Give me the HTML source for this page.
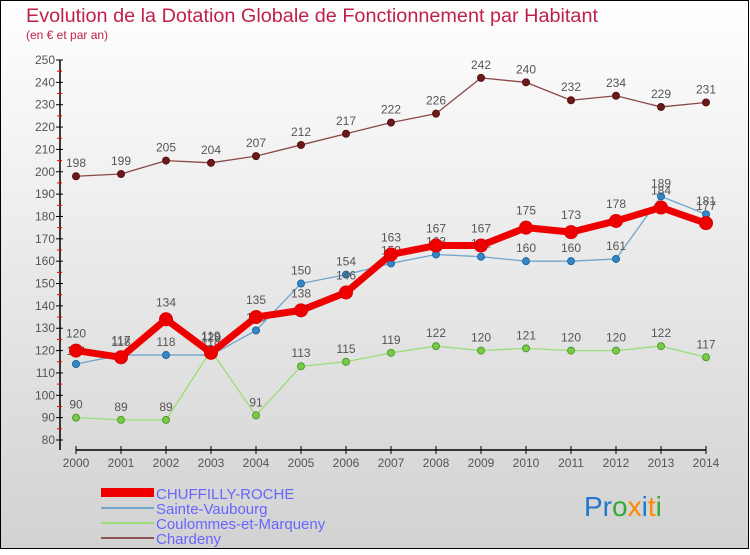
<!DOCTYPE html>
<html><head><meta charset="utf-8"><style>
body{margin:0}
#c{width:750px;height:550px;position:relative;font-family:"Liberation Sans",sans-serif}
svg text{font-family:"Liberation Sans",sans-serif}
</style></head><body>
<div id="c">
<svg id="s" width="750" height="550" xmlns="http://www.w3.org/2000/svg">
<defs><linearGradient id="bg" x1="0" y1="0" x2="0" y2="1"><stop offset="0" stop-color="#ffffff"/><stop offset="1" stop-color="#d2d2d2"/></linearGradient></defs>
<rect x="0.5" y="0.5" width="748" height="548" fill="url(#bg)" stroke="#000" stroke-width="1"/>
<text x="26" y="22" font-size="19" fill="#c0204a" textLength="572" lengthAdjust="spacingAndGlyphs">Evolution de la Dotation Globale de Fonctionnement par Habitant</text>
<text x="26" y="39" font-size="12" fill="#c0204a">(en € et par an)</text>
<g id="axes"></g><g id="series"></g>
<g>
<rect x="101" y="488" width="53" height="9" fill="#ee0000"/>
<text x="156" y="499" font-size="15" fill="#6666ff">CHUFFILLY-ROCHE</text>
<line x1="101" y1="508" x2="154" y2="508" stroke="#6fa6cc" stroke-width="2"/>
<text x="156" y="514" font-size="15" fill="#6666ff">Sainte-Vaubourg</text>
<line x1="101" y1="523" x2="154" y2="523" stroke="#99dd77" stroke-width="2"/>
<text x="156" y="529" font-size="15" fill="#6666ff">Coulommes-et-Marqueny</text>
<line x1="101" y1="538" x2="154" y2="538" stroke="#8b5555" stroke-width="2"/>
<text x="156" y="544" font-size="15" fill="#6666ff">Chardeny</text>
</g>
<text x="584" y="516" font-size="28"><tspan fill="#2277cc">Pr</tspan><tspan fill="#33aa33">o</tspan><tspan fill="#ff8800">x</tspan><tspan fill="#2277cc">i</tspan><tspan fill="#ff8800">t</tspan><tspan fill="#33aa33">i</tspan></text>
</svg></div>
<script>
const years=[2000,2001,2002,2003,2004,2005,2006,2007,2008,2009,2010,2011,2012,2013,2014];
const yTicks=[80,90,100,110,120,130,140,150,160,170,180,190,200,210,220,230,240,250];
const chuffilly=[120,117,134,119,135,138,146,163,167,167,175,173,178,184,177];
const sainteVaubourg=[114,118,118,118,129,150,154,159,163,162,160,160,161,189,181];
const coulommes=[90,89,89,120,91,113,115,119,122,120,121,120,120,122,117];
const chardeny=[198,199,205,204,207,212,217,222,226,242,240,232,234,229,231];
const NS="http://www.w3.org/2000/svg";
function X(i){return 76+i*(630/(years.length-1));}
function Y(v){return 440-(v-80)*(380/170);}
function mk(t,a,p){const e=document.createElementNS(NS,t);for(const k in a)e.setAttribute(k,a[k]);p.appendChild(e);return e;}
const ax=document.getElementById('axes');
mk('line',{x1:60,y1:60,x2:60,y2:450,stroke:'#000','stroke-width':1.5},ax);
mk('line',{x1:76,y1:450,x2:706,y2:450,stroke:'#000','stroke-width':1.5},ax);
yTicks.forEach(v=>{
  mk('line',{x1:56,y1:Y(v),x2:63,y2:Y(v),stroke:'#000'},ax);
  if(v<250) mk('line',{x1:57,y1:Y(v+5),x2:62,y2:Y(v+5),stroke:'#e00'},ax);
  const t=mk('text',{x:55,y:Y(v)+4,'font-size':12,fill:'#555','text-anchor':'end'},ax);
  t.textContent=v;
  
  
});
years.forEach((yr,i)=>{
  mk('line',{x1:X(i),y1:446,x2:X(i),y2:454,stroke:'#000'},ax);
  const t=mk('text',{x:X(i),y:467,'font-size':12,fill:'#555','text-anchor':'middle'},ax);
  t.textContent=yr;
  
  
});
const sg=document.getElementById('series');
function draw(vals,color,lw,r,name,dot,stroke){
  const g=mk('g',{},sg);
  
  
  mk('polyline',{points:vals.map((v,i)=>X(i)+','+Y(v)).join(' '),fill:'none',stroke:color,'stroke-width':lw,'stroke-linejoin':'round'},g);
  vals.forEach((v,i)=>{
    const c=mk('circle',{cx:X(i),cy:Y(v),r:r,fill:dot,stroke:stroke,'stroke-width':1},g);
    
    
    const t=mk('text',{x:X(i),y:Y(v)-9-(r>5?4:0),'font-size':12,fill:'#555','text-anchor':'middle'},g);
    t.textContent=v;
    
    
  });
}
draw(chardeny,'#8b4848',1.3,3.5,'series-chardeny','#6b1a1a','#5a1010');
draw(coulommes,'#99dd77',1.3,3.5,'series-coulommes','#77cc44','#559933');
draw(sainteVaubourg,'#6fa6cc',1.3,3.5,'series-sainte-vaubourg','#3388cc','#226699');
draw(chuffilly,'#ee0000',7,6.5,'series-chuffilly-roche','#ee0000','#dd0000');
</script>
</body></html>
